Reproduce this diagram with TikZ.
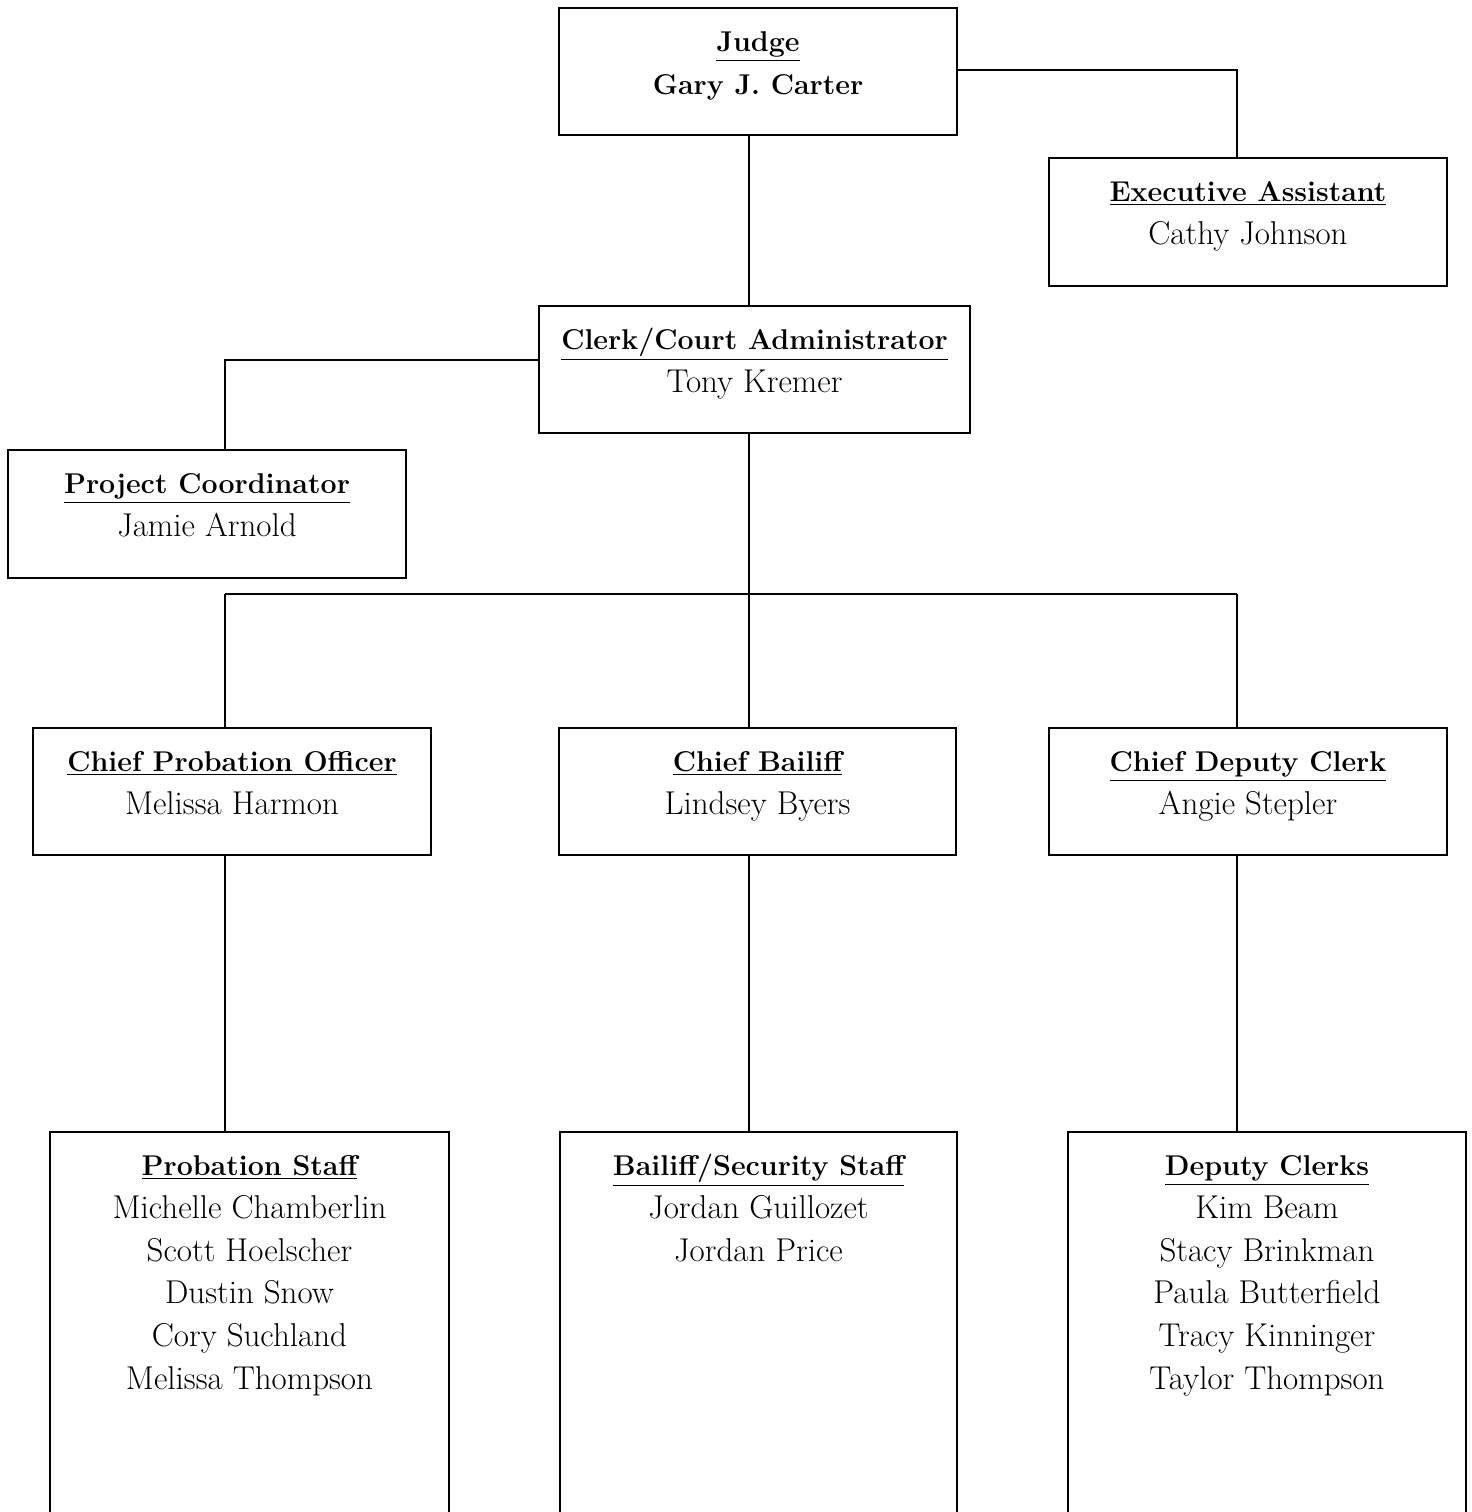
\documentclass[tikz,border=0pt]{standalone}
\usetikzlibrary{calc}
\begin{document}
\begin{tikzpicture}[x=0.5pt,y=-0.5pt,
  box/.style={draw, line width=1pt, rectangle, inner sep=0pt},
  txt/.style={align=center, inner sep=0pt, anchor=north, font=\fontsize{16.5}{21.4}\selectfont},
  conn/.style={line width=1pt}]
\useasboundingbox (0,0) rectangle (1472,1512);
\clip (0,0) rectangle (1472,1512);
\newcommand{\hd}[1]{\rule{0pt}{12pt}{\fontsize{14.3}{21.4}\selectfont\textbf{\underline{#1}}}}
\newcommand{\bnm}[1]{{\fontsize{14.3}{21.4}\selectfont\textbf{#1}}}
% boxes
\node[box, minimum width=199pt, minimum height=63.5pt] (judge) at (758,71.5) {};
\node[box, minimum width=199pt, minimum height=64pt] (exec) at (1248,222) {};
\node[box, minimum width=215.5pt, minimum height=63.5pt] (clerk) at (754.5,369.5) {};
\node[box, minimum width=199pt, minimum height=64pt] (proj) at (207,514) {};
\node[box, minimum width=199pt, minimum height=63.5pt] (cpo) at (232,791.5) {};
\node[box, minimum width=198.5pt, minimum height=63.5pt] (cb) at (757.5,791.5) {};
\node[box, minimum width=199pt, minimum height=63.5pt] (cdc) at (1248,791.5) {};
\node[box, minimum width=199.5pt, minimum height=204pt] (ps) at (249.5,1336) {};
\node[box, minimum width=198.5pt, minimum height=204pt] (bs) at (758.5,1336) {};
\node[box, minimum width=199pt, minimum height=204pt] (dc) at (1267,1336) {};
% texts
\node[txt] (tjudge) at ($(judge.north)+(0,20)$) {\hd{Judge}\\\bnm{Gary J. Carter}};
\node[txt] (texec) at ($(exec.north)+(0,20)$) {\hd{Executive Assistant}\\Cathy Johnson};
\node[txt] (tclerk) at ($(clerk.north)+(0,20)$) {\hd{Clerk/Court Administrator}\\Tony Kremer};
\node[txt] (tproj) at ($(proj.north)+(0,20)$) {\hd{Project Coordinator}\\Jamie Arnold};
\node[txt] (tcpo) at ($(cpo.north)+(0,20)$) {\hd{Chief Probation Officer}\\Melissa Harmon};
\node[txt] (tcb) at ($(cb.north)+(0,20)$) {\hd{Chief Bailiff}\\Lindsey Byers};
\node[txt] (tcdc) at ($(cdc.north)+(0,20)$) {\hd{Chief Deputy Clerk}\\Angie Stepler};
\node[txt] (tps) at ($(ps.north)+(0,20)$) {\hd{Probation Staff}\\Michelle Chamberlin\\Scott Hoelscher\\Dustin Snow\\Cory Suchland\\Melissa Thompson};
\node[txt] (tbs) at ($(bs.north)+(0,20)$) {\hd{Bailiff/Security Staff}\\Jordan Guillozet\\Jordan Price};
\node[txt] (tdc) at ($(dc.north)+(0,20)$) {\hd{Deputy Clerks}\\Kim Beam\\Stacy Brinkman\\Paula Butterfield\\Tracy Kinninger\\Taylor Thompson};
% connectors
\coordinate (tr) at (749,0);
\coordinate (jx) at (1237,70);
\coordinate (cx) at (225,360);
\coordinate (bus) at (225,594);
\coordinate (busr) at (1237,594);
\draw[conn] (judge.south -| tr) -- (clerk.north -| tr);
\draw[conn] (judge.east |- jx) -| (exec.north -| jx);
\draw[conn] (clerk.west |- cx) -| (proj.north -| cx);
\draw[conn] (clerk.south -| tr) -- (cb.north -| tr);
\draw[conn] (bus) -- (busr);
\draw[conn] (bus) -- (cpo.north -| bus);
\draw[conn] (busr) -- (cdc.north -| busr);
\draw[conn] (cpo.south -| bus) -- (ps.north -| bus);
\draw[conn] (cb.south -| tr) -- (bs.north -| tr);
\draw[conn] (cdc.south -| busr) -- (dc.north -| busr);
\end{tikzpicture}
\end{document}
